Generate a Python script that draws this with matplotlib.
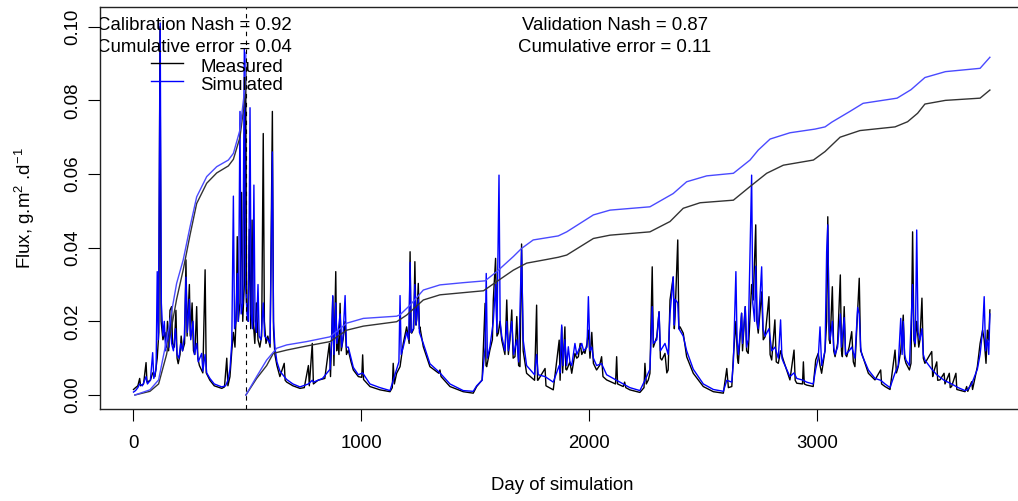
import matplotlib
matplotlib.use("Agg")
import matplotlib.pyplot as plt
from matplotlib.lines import Line2D

plt.rcParams['font.family'] = ['Liberation Sans', 'DejaVu Sans']
plt.rcParams['mathtext.fontset'] = 'custom'
plt.rcParams['mathtext.rm'] = 'Liberation Sans'
plt.rcParams['mathtext.it'] = 'Liberation Sans'
plt.rcParams['mathtext.bf'] = 'Liberation Sans'

# ---------------- data ----------------
meas_day = [1, 10, 20, 28, 32, 45, 56, 60, 75, 85, 95, 105, 112, 117, 122, 130, 139, 145, 150, 155,
            161, 168, 172, 180, 187, 192, 197, 205, 210, 216, 225, 231, 236, 246, 250, 258, 264, 270,
            278, 283, 290, 305, 315, 320, 336, 355, 388, 400, 410, 415, 424, 432, 439, 446, 452, 456,
            460, 468, 475, 480, 487, 493, 497, 503, 509, 515, 521, 526, 533, 540, 547, 555, 563, 570,
            575, 582, 590, 600, 610, 615, 621, 630, 643, 662, 666, 673, 700, 731, 750, 768, 772, 785,
            790, 810, 840, 860, 865,
            875, 880, 888, 892, 895, 902, 907, 912, 920, 929, 935, 943, 955, 965, 987, 1002, 1006, 1010,
            1038, 1082, 1126, 1136, 1140, 1145, 1155, 1170, 1184, 1199, 1210, 1214, 1218, 1221, 1230,
            1235, 1240, 1243, 1250, 1255, 1257, 1272, 1301, 1340, 1345, 1350, 1389, 1447, 1491, 1506,
            1530, 1543, 1547, 1550, 1564, 1575, 1579, 1589, 1595, 1601, 1608, 1616, 1630, 1638, 1645,
            1652, 1660, 1666, 1674, 1682, 1690, 1696, 1703, 1710, 1725, 1760, 1769, 1773, 1776, 1806,
            1810, 1842, 1868, 1872,
            1879, 1883, 1893, 1897, 1901, 1915, 1923, 1937, 1945, 1952, 1960, 1967, 1975, 1981, 1990,
            1996, 2003, 2011, 2018, 2032, 2045, 2054, 2060, 2076, 2115, 2120, 2124, 2149, 2155, 2160,
            2178, 2222, 2240, 2244, 2250, 2259, 2266, 2276, 2281, 2296, 2306, 2312, 2318, 2332, 2340,
            2346, 2354, 2368, 2373, 2376, 2388, 2393, 2398, 2412, 2427, 2456, 2500, 2544, 2588, 2603,
            2610, 2625, 2632, 2643, 2650, 2654, 2668, 2672, 2675, 2684, 2690, 2697, 2712, 2719, 2730,
            2735, 2741, 2756, 2763, 2771, 2788, 2793, 2800, 2814, 2820, 2829, 2839, 2851, 2870, 2880,
            2898, 2903, 2910, 2935, 2939, 2943, 2953, 2982, 2993, 3004, 3012, 3019, 3034, 3041, 3046,
            3052, 3056, 3066, 3072, 3078, 3089, 3101, 3106, 3110, 3118, 3124, 3129, 3140, 3151, 3158,
            3165, 3184, 3190, 3195, 3224, 3253, 3278, 3282, 3297, 3319, 3341, 3347, 3355, 3366, 3377,
            3383, 3389, 3404, 3411, 3418, 3424, 3428, 3436, 3445, 3450, 3459, 3465, 3472, 3502, 3506,
            3509, 3524, 3528, 3538, 3556, 3560, 3579, 3583, 3589, 3608, 3612, 3648, 3655, 3660, 3677,
            3681, 3702, 3714, 3725, 3732, 3740, 3746, 3752, 3757]
meas_val = [0.0015, 0.0020, 0.0025, 0.0045, 0.0025, 0.0030, 0.0088, 0.0035, 0.0040, 0.0060, 0.0050,
            0.0100, 0.0170, 0.1000, 0.0200, 0.0150, 0.0170, 0.0130, 0.0200, 0.0120, 0.0230, 0.0240,
            0.0140, 0.0130, 0.0230, 0.0100, 0.0085, 0.0110, 0.0160, 0.0120, 0.0140, 0.0367, 0.0160,
            0.0300, 0.0160, 0.0250, 0.0120, 0.0110, 0.0240, 0.0100, 0.0080, 0.0060, 0.0340, 0.0060,
            0.0040, 0.0025, 0.0018, 0.0022, 0.0100, 0.0025, 0.0050, 0.0120, 0.0170, 0.0130, 0.0230,
            0.0430, 0.0200, 0.0250, 0.0550, 0.0200, 0.0300, 0.0880, 0.0250, 0.0200, 0.0450, 0.0180,
            0.0475, 0.0200, 0.0140, 0.0250, 0.0150, 0.0130, 0.0160, 0.0710, 0.0200, 0.0140, 0.0160,
            0.0130, 0.0770, 0.0180, 0.0110, 0.0080, 0.0050, 0.0086, 0.0040, 0.0035, 0.0025, 0.0018,
            0.0020, 0.0080, 0.0025, 0.0140, 0.0030, 0.0040, 0.0045, 0.0140, 0.0050,
            0.0267, 0.0080, 0.0335, 0.0120, 0.0168, 0.0110, 0.0249, 0.0120, 0.0150, 0.0200, 0.0110,
            0.0122, 0.0090, 0.0068, 0.0050, 0.0048, 0.0109, 0.0042, 0.0023, 0.0014, 0.0009, 0.0020,
            0.0086, 0.0030, 0.0059, 0.0077, 0.0140, 0.0185, 0.0140, 0.0389, 0.0170, 0.0168, 0.0180,
            0.0362, 0.0190, 0.0204, 0.0303, 0.0180, 0.0185, 0.0131, 0.0077, 0.0059, 0.0068, 0.0050,
            0.0023, 0.0009, 0.0005, 0.0023, 0.0041, 0.0249, 0.0080, 0.0077, 0.0122, 0.0150, 0.0258,
            0.0371, 0.0160, 0.0168, 0.0200, 0.0149, 0.0110, 0.0258, 0.0110, 0.0149, 0.0231, 0.0100,
            0.0104, 0.0213, 0.0080, 0.0077, 0.0410, 0.0120, 0.0059, 0.0040, 0.0244, 0.0040, 0.0041,
            0.0072, 0.0025, 0.0014, 0.0149, 0.0040,
            0.0185, 0.0060, 0.0185, 0.0070, 0.0068, 0.0090, 0.0059, 0.0113, 0.0100, 0.0104, 0.0140,
            0.0110, 0.0120, 0.0113, 0.0140, 0.0176, 0.0100, 0.0170, 0.0086, 0.0068, 0.0080, 0.0104,
            0.0050, 0.0041, 0.0030, 0.0104, 0.0030, 0.0023, 0.0035, 0.0020, 0.0014, 0.0007, 0.0020,
            0.0086, 0.0030, 0.0041, 0.0059, 0.0348, 0.0130, 0.0158, 0.0226, 0.0100, 0.0095, 0.0113,
            0.0060, 0.0068, 0.0258, 0.0320, 0.0180, 0.0213, 0.0421, 0.0180, 0.0185, 0.0168, 0.0104,
            0.0059, 0.0023, 0.0009, 0.0005, 0.0072, 0.0020, 0.0023, 0.0104, 0.0200, 0.0100, 0.0086,
            0.0222, 0.0120, 0.0150, 0.0240, 0.0120, 0.0113, 0.0300, 0.0258, 0.0462, 0.0200, 0.0168,
            0.0280, 0.0150, 0.0158, 0.0267, 0.0110, 0.0095, 0.0204, 0.0090, 0.0086, 0.0120, 0.0095,
            0.0060, 0.0041,
            0.0122, 0.0040, 0.0032, 0.0030, 0.0090, 0.0030, 0.0027, 0.0023, 0.0095, 0.0113, 0.0080,
            0.0059, 0.0122, 0.0200, 0.0484, 0.0150, 0.0140, 0.0294, 0.0120, 0.0104, 0.0140, 0.0326,
            0.0120, 0.0104, 0.0240, 0.0110, 0.0104, 0.0131, 0.0172, 0.0090, 0.0077, 0.0317, 0.0120,
            0.0113, 0.0059, 0.0041, 0.0068, 0.0030, 0.0023, 0.0015, 0.0122, 0.0060, 0.0077, 0.0120,
            0.0217, 0.0100, 0.0086, 0.0068, 0.0086, 0.0443, 0.0150, 0.0131, 0.0200, 0.0130, 0.0149,
            0.0263, 0.0100, 0.0086, 0.0118, 0.0050, 0.0059, 0.0090, 0.0040, 0.0041, 0.0059, 0.0030,
            0.0059, 0.0020, 0.0023, 0.0059, 0.0015, 0.0009, 0.0023, 0.0010, 0.0036, 0.0015, 0.0077,
            0.0140, 0.0176, 0.0150, 0.0086, 0.0176, 0.0149, 0.0231]

sim_day = [1, 10, 20, 28, 40, 50, 56, 62, 75, 85, 90, 100, 105, 110, 118, 123, 130, 136, 142, 150,
           157, 163, 168, 176, 185, 192, 200, 208, 216, 224, 231, 237, 246, 252, 262, 268, 278, 285,
           300, 305, 315, 322, 336, 355, 388, 405, 415, 424, 432, 439, 444, 450, 456, 461, 468, 473,
           480, 487, 492, 499, 505, 512, 517, 523, 529, 534, 540, 547, 552, 560, 570, 576, 590, 600,
           610, 615, 621, 630, 643, 662, 673, 700, 731, 768, 785, 790, 810, 830, 850, 863,
           870, 875, 880, 888, 893, 900, 907, 914, 920, 929, 935, 943, 955, 965, 987, 1006, 1038, 1082,
           1126, 1140, 1155, 1165, 1170, 1175, 1184, 1199, 1208, 1214, 1219, 1228, 1235, 1240, 1250,
           1255, 1272, 1301, 1345, 1389, 1447, 1491, 1506, 1530, 1543, 1548, 1553, 1564, 1579, 1589,
           1595, 1604, 1609, 1616, 1630, 1638, 1645, 1652, 1660, 1668, 1682, 1690, 1703, 1710, 1725,
           1760, 1769, 1776, 1806, 1842, 1868, 1872,
           1879, 1885, 1893, 1901, 1908, 1915, 1923, 1937, 1945, 1952, 1967, 1975, 1990, 1996, 2003,
           2011, 2018, 2032, 2054, 2076, 2120, 2149, 2178, 2222, 2244, 2259, 2266, 2276, 2281, 2296,
           2306, 2312, 2332, 2346, 2354, 2368, 2373, 2376, 2388, 2393, 2412, 2427, 2456, 2500, 2544,
           2588, 2603, 2625, 2632, 2643, 2648, 2654, 2668, 2672, 2684, 2690, 2697, 2712, 2717, 2725,
           2730, 2736, 2741, 2756, 2762, 2771, 2788, 2800, 2814, 2829, 2839, 2845, 2851, 2880,
           2898, 2910, 2939, 2953, 2982, 2993, 3004, 3012, 3019, 3034, 3041, 3046, 3052, 3056, 3066,
           3072, 3078, 3089, 3101, 3106, 3118, 3124, 3140, 3151, 3165, 3177, 3184, 3190, 3195, 3224,
           3253, 3278, 3297, 3319, 3341, 3355, 3366, 3372, 3377, 3383, 3389, 3404, 3418, 3424, 3430,
           3436, 3442, 3450, 3459, 3465, 3472, 3502, 3524, 3556, 3589, 3618, 3648, 3660, 3677, 3702,
           3714, 3725, 3732, 3738, 3746, 3752, 3757]
sim_val = [0.0008, 0.0012, 0.0020, 0.0030, 0.0025, 0.0040, 0.0050, 0.0030, 0.0040, 0.0115, 0.0045,
           0.0070, 0.0335, 0.0150, 0.1010, 0.0250, 0.0160, 0.0200, 0.0120, 0.0170, 0.0130, 0.0210,
           0.0140, 0.0120, 0.0180, 0.0110, 0.0100, 0.0140, 0.0120, 0.0160, 0.0320, 0.0170, 0.0260,
           0.0150, 0.0200, 0.0110, 0.0140, 0.0090, 0.0113, 0.0065, 0.0110, 0.0060, 0.0045, 0.0030,
           0.0022, 0.0025, 0.0040, 0.0070, 0.0140, 0.0540, 0.0180, 0.0200, 0.0330, 0.0200, 0.0770,
           0.0220, 0.0250, 0.0940, 0.0300, 0.0220, 0.0200, 0.0780, 0.0220, 0.0180, 0.0570, 0.0200,
           0.0170, 0.0300, 0.0160, 0.0150, 0.0250, 0.0160, 0.0150, 0.0140, 0.0660, 0.0200, 0.0130,
           0.0090, 0.0065, 0.0050, 0.0042, 0.0030, 0.0022, 0.0030, 0.0040, 0.0035, 0.0040, 0.0045,
           0.0060, 0.0070,
           0.0150, 0.0270, 0.0110, 0.0250, 0.0140, 0.0180, 0.0220, 0.0130, 0.0160, 0.0270, 0.0130,
           0.0130, 0.0100, 0.0075, 0.0055, 0.0060, 0.0030, 0.0020, 0.0012, 0.0040, 0.0070, 0.0090,
           0.0270, 0.0110, 0.0130, 0.0170, 0.0150, 0.0360, 0.0170, 0.0180, 0.0300, 0.0190, 0.0260,
           0.0170, 0.0140, 0.0085, 0.0060, 0.0030, 0.0012, 0.0010, 0.0025, 0.0040, 0.0130, 0.0330,
           0.0100, 0.0130, 0.0200, 0.0300, 0.0170, 0.0597, 0.0200, 0.0160, 0.0120, 0.0200, 0.0120,
           0.0160, 0.0200, 0.0110, 0.0150, 0.0090, 0.0394, 0.0150, 0.0080, 0.0055, 0.0110, 0.0055,
           0.0050, 0.0035, 0.0080, 0.0060,
           0.0190, 0.0080, 0.0150, 0.0080, 0.0131, 0.0090, 0.0080, 0.0140, 0.0110, 0.0120, 0.0140,
           0.0120, 0.0130, 0.0267, 0.0120, 0.0130, 0.0100, 0.0080, 0.0085, 0.0055, 0.0040, 0.0030,
           0.0020, 0.0012, 0.0040, 0.0060, 0.0070, 0.0240, 0.0140, 0.0150, 0.0226, 0.0120, 0.0140,
           0.0110, 0.0220, 0.0321, 0.0190, 0.0260, 0.0250, 0.0180, 0.0160, 0.0120, 0.0070, 0.0030,
           0.0015, 0.0010, 0.0040, 0.0035, 0.0090, 0.0335, 0.0150, 0.0110, 0.0222, 0.0140, 0.0240,
           0.0130, 0.0150, 0.0597, 0.0250, 0.0200, 0.0350, 0.0200, 0.0180, 0.0348, 0.0180, 0.0160,
           0.0180, 0.0120, 0.0130, 0.0100, 0.0204, 0.0100, 0.0090, 0.0050,
           0.0060, 0.0045, 0.0040, 0.0035, 0.0030, 0.0070, 0.0100, 0.0185, 0.0080, 0.0120, 0.0389,
           0.0462, 0.0180, 0.0150, 0.0200, 0.0130, 0.0110, 0.0130, 0.0220, 0.0130, 0.0210, 0.0110,
           0.0120, 0.0130, 0.0100, 0.0238, 0.0220, 0.0130, 0.0110, 0.0068, 0.0045, 0.0040, 0.0030,
           0.0020, 0.0060, 0.0080, 0.0208, 0.0110, 0.0200, 0.0110, 0.0095, 0.0080, 0.0300, 0.0150,
           0.0140, 0.0448, 0.0170, 0.0150, 0.0180, 0.0110, 0.0095, 0.0070, 0.0055, 0.0040, 0.0030,
           0.0020, 0.0012, 0.0015, 0.0030, 0.0070, 0.0110, 0.0176, 0.0267, 0.0120, 0.0150, 0.0110,
           0.0220]

# cumulative curves (calibration period and validation period)
cal_day = [7, 73, 111, 146, 190, 219, 249, 278, 322, 366, 417, 439, 468, 490, 494]
cal_meas_cum = [0.0, 0.0010, 0.0030, 0.0110, 0.0260, 0.0340, 0.0435, 0.0520, 0.0575, 0.0603,
                0.0622, 0.0640, 0.0700, 0.0810, 0.0890]
cal_sim_cum = [0.0, 0.0014, 0.0041, 0.0149, 0.0303, 0.0367, 0.0457, 0.0538, 0.0593, 0.0620,
               0.0638, 0.0656, 0.0720, 0.0837, 0.0930]

val_meas_day = [494, 541, 585, 614, 673, 760, 863, 936, 1009, 1155, 1199, 1272, 1345, 1536, 1594,
                1667, 1725, 1813, 1864, 1901, 2018, 2091, 2266, 2354, 2412, 2486, 2632, 2705, 2778,
                2851, 2983, 3034, 3100, 3187, 3341, 3396, 3440, 3472, 3562, 3714, 3757]
val_meas_cum = [0.0, 0.0045, 0.0080, 0.0113, 0.0122, 0.0133, 0.0145, 0.0176, 0.0187, 0.0199,
                0.0217, 0.0258, 0.0272, 0.0283, 0.0308, 0.0339, 0.0358, 0.0368, 0.0374, 0.0380,
                0.0425, 0.0434, 0.0443, 0.0471, 0.0507, 0.0522, 0.0529, 0.0566, 0.0602, 0.0624,
                0.0638, 0.0661, 0.0700, 0.0718, 0.0728, 0.0742, 0.0765, 0.0790, 0.0800, 0.0806,
                0.0828]
val_sim_day = [494, 541, 585, 629, 673, 760, 863, 936, 1009, 1155, 1170, 1214, 1272, 1345, 1447,
               1543, 1594, 1667, 1703, 1754, 1864, 1901, 2018, 2091, 2266, 2368, 2427, 2515, 2632,
               2705, 2741, 2793, 2880, 2990, 3034, 3064, 3143, 3201, 3350, 3411, 3472, 3562, 3714,
               3757]
val_sim_cum = [0.0, 0.0050, 0.0095, 0.0127, 0.0136, 0.0145, 0.0158, 0.0195, 0.0208, 0.0214,
               0.0218, 0.0244, 0.0285, 0.0299, 0.0305, 0.0310, 0.0335, 0.0376, 0.0398, 0.0421,
               0.0432, 0.0443, 0.0489, 0.0502, 0.0511, 0.0547, 0.0579, 0.0595, 0.0602, 0.0638,
               0.0665, 0.0695, 0.0712, 0.0722, 0.0728, 0.0741, 0.0770, 0.0792, 0.0806, 0.0829,
               0.0862, 0.0878, 0.0887, 0.0917]

split_day = 494
x_ticks = [0, 1000, 2000, 3000]
y_ticks = [0.00, 0.02, 0.04, 0.06, 0.08, 0.10]
cal_text = ["Calibration Nash = 0.92", "Cumulative error = 0.04"]
val_text = ["Validation Nash = 0.87", "Cumulative error = 0.11"]
legend_labels = ["Measured", "Simulated"]

# ---------------- figure ----------------
W, H = 1018, 501
FS = 13.4
fig = plt.figure(figsize=(W / 100, H / 100), dpi=100)
L, R, T, B = 100, 1024, 7.3, 409
ax = fig.add_axes([L / W, 1 - B / H, (R - L) / W, (B - T) / H])

BLUE = '#0000ff'
ax.plot(meas_day, meas_val, color='black', lw=1.0)
ax.plot(sim_day, sim_val, color=BLUE, lw=1.0)
ax.plot(cal_day, cal_meas_cum, color='#333333', lw=1.0)
ax.plot(cal_day, cal_sim_cum, color='#4a4aff', lw=1.0)
ax.plot(val_meas_day, val_meas_cum, color='#333333', lw=1.0)
ax.plot(val_sim_day, val_sim_cum, color='#4a4aff', lw=1.0)
ax.axvline(split_day, color='black', lw=0.8, dashes=(4, 4))

ax.set_xlim(-146, 3906.6)
ax.set_ylim(-0.0038, 0.10527)
ax.set_xticks(x_ticks)
ax.set_xticklabels([str(v) for v in x_ticks])
ax.set_yticks(y_ticks)
ax.set_yticklabels(["%.2f" % v for v in y_ticks])
ax.tick_params(axis='both', direction='out', length=8.5, width=0.8, color='black',
               labelsize=FS, top=False, right=False)
ax.tick_params(axis='x', pad=10)
ax.tick_params(axis='y', pad=5)
for lab in ax.get_yticklabels():
    lab.set_rotation(90)
    lab.set_va('center')
for s in ax.spines.values():
    s.set_linewidth(1.0)
    s.set_color('#222222')

def axx(px):
    return (px - L) / (R - L)

def axy(py):
    return (B - py) / (B - T)

# annotation texts (clipped to plot region as in R)
for i, (ct, vt) in enumerate(zip(cal_text, val_text)):
    yb = [30, 52][i]
    ax.text(axx(194), axy(yb), ct, transform=ax.transAxes, ha='center', va='baseline',
            fontsize=FS, clip_on=True)
    ax.text(axx(615), axy(yb), vt, transform=ax.transAxes, ha='center', va='baseline',
            fontsize=FS, clip_on=True)

# legend
for lab, col, yl, yb in zip(legend_labels, ['black', BLUE], [63, 81], [72, 90]):
    ax.add_line(Line2D([axx(151), axx(183)], [axy(yl)] * 2, transform=ax.transAxes,
                       color=col, lw=1.0))
    ax.text(axx(200), axy(yb), lab, transform=ax.transAxes, ha='left', va='baseline',
            fontsize=FS)

fig.text(562 / W, 1 - 485 / H, "Day of simulation", ha='center', va='center', fontsize=FS)
fig.text(25 / W, 1 - 208 / H, r"Flux, g.m$^{2}$ .d$^{-1}$", rotation=90, ha='center',
         va='center', fontsize=FS)

fig.savefig("out.png", dpi=100)
